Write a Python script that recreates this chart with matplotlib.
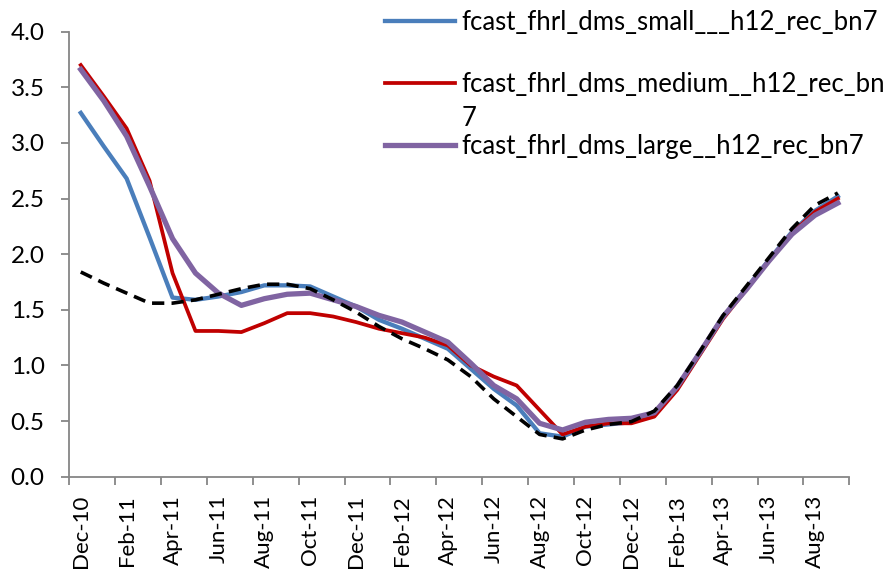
import matplotlib
matplotlib.use("Agg")
import matplotlib.pyplot as plt

plt.rcParams['font.family'] = ['Lato', 'DejaVu Sans']

# Monthly categories, Dec-10 .. Sep-13
months = ["Dec-10", "Jan-11", "Feb-11", "Mar-11", "Apr-11", "May-11", "Jun-11",
          "Jul-11", "Aug-11", "Sep-11", "Oct-11", "Nov-11", "Dec-11", "Jan-12",
          "Feb-12", "Mar-12", "Apr-12", "May-12", "Jun-12", "Jul-12", "Aug-12",
          "Sep-12", "Oct-12", "Nov-12", "Dec-12", "Jan-13", "Feb-13", "Mar-13",
          "Apr-13", "May-13", "Jun-13", "Jul-13", "Aug-13", "Sep-13"]

small = [3.27, 2.97, 2.68, 2.15, 1.61, 1.59, 1.62, 1.66, 1.72, 1.72, 1.71, 1.62,
         1.53, 1.41, 1.33, 1.24, 1.15, 0.97, 0.79, 0.64, 0.39, 0.36, 0.45, 0.47,
         0.49, 0.57, 0.80, 1.12, 1.44, 1.69, 1.95, 2.20, 2.39, 2.52]
medium = [3.70, 3.42, 3.13, 2.66, 1.83, 1.31, 1.31, 1.30, 1.38, 1.47, 1.47, 1.44,
          1.39, 1.33, 1.29, 1.25, 1.18, 1.00, 0.90, 0.82, 0.60, 0.38, 0.45, 0.48,
          0.48, 0.54, 0.78, 1.10, 1.42, 1.68, 1.94, 2.19, 2.38, 2.50]
large = [3.66, 3.38, 3.06, 2.61, 2.14, 1.83, 1.65, 1.54, 1.60, 1.64, 1.65, 1.59,
         1.53, 1.45, 1.39, 1.30, 1.21, 1.02, 0.82, 0.70, 0.48, 0.42, 0.49, 0.515,
         0.525, 0.575, 0.81, 1.12, 1.44, 1.68, 1.94, 2.18, 2.35, 2.46]
actual = [1.84, 1.74, 1.65, 1.56, 1.56, 1.59, 1.64, 1.69, 1.73, 1.73, 1.69, 1.59,
          1.48, 1.35, 1.24, 1.15, 1.05, 0.90, 0.70, 0.54, 0.38, 0.34, 0.42, 0.47,
          0.495, 0.59, 0.82, 1.13, 1.45, 1.71, 1.97, 2.23, 2.44, 2.55]

labels = ["fcast_fhrl_dms_small___h12_rec_bn7",
          "fcast_fhrl_dms_medium__h12_rec_bn",
          "fcast_fhrl_dms_large__h12_rec_bn7"]

x = list(range(len(months)))

fig = plt.figure(figsize=(8.85, 5.72), dpi=100)
ax = fig.add_axes([0.0783, 0.1666, 0.8814, 0.778])

ax.plot(x, small, color="#4A7EBB", lw=3.1, label=labels[0])
ax.plot(x, medium, color="#C00000", lw=2.7, label=labels[1])
ax.plot(x, large, color="#8064A2", lw=3.8, label=labels[2])
ax.plot(x, actual, color="black", lw=2.6, dashes=(3.4, 2.0))

ax.set_xlim(-0.5, len(months) - 0.5)
ax.set_ylim(0, 4)
ax.set_yticks([i * 0.5 for i in range(9)])
ax.set_yticklabels([f"{i * 0.5:.1f}" for i in range(9)])

# tick marks between categories, labels on every second category
ax.set_xticks([i - 0.5 for i in range(0, len(months) + 1, 2)])
ax.set_xticklabels([])
ax.set_xticks(x[::2], minor=True)
ax.set_xticklabels(months[::2], minor=True, rotation=90)
ax.tick_params(axis="x", which="minor", length=0, pad=13, labelsize=16)
ax.tick_params(axis="x", which="major", length=5.8, color="#868686", width=1.3)
ax.tick_params(axis="y", length=5.8, color="#868686", width=1.3, labelsize=17.5, pad=12)

for side in ["top", "right"]:
    ax.spines[side].set_visible(False)
for side in ["left", "bottom"]:
    ax.spines[side].set_color("#868686")
    ax.spines[side].set_linewidth(1.3)

leg = ax.legend(loc="upper left", bbox_to_anchor=(0.435, 0.983),
                bbox_transform=fig.transFigure, frameon=False, fontsize=18.5,
                handlelength=2.72, handletextpad=0.27, labelspacing=1.45,
                borderpad=0, borderaxespad=0)
# wrapped remainder of the second legend label
fig.text(0.522, 1 - 119 / 572, "7", fontsize=18.5, va="center", ha="left")

fig.savefig("out.png", dpi=100)
